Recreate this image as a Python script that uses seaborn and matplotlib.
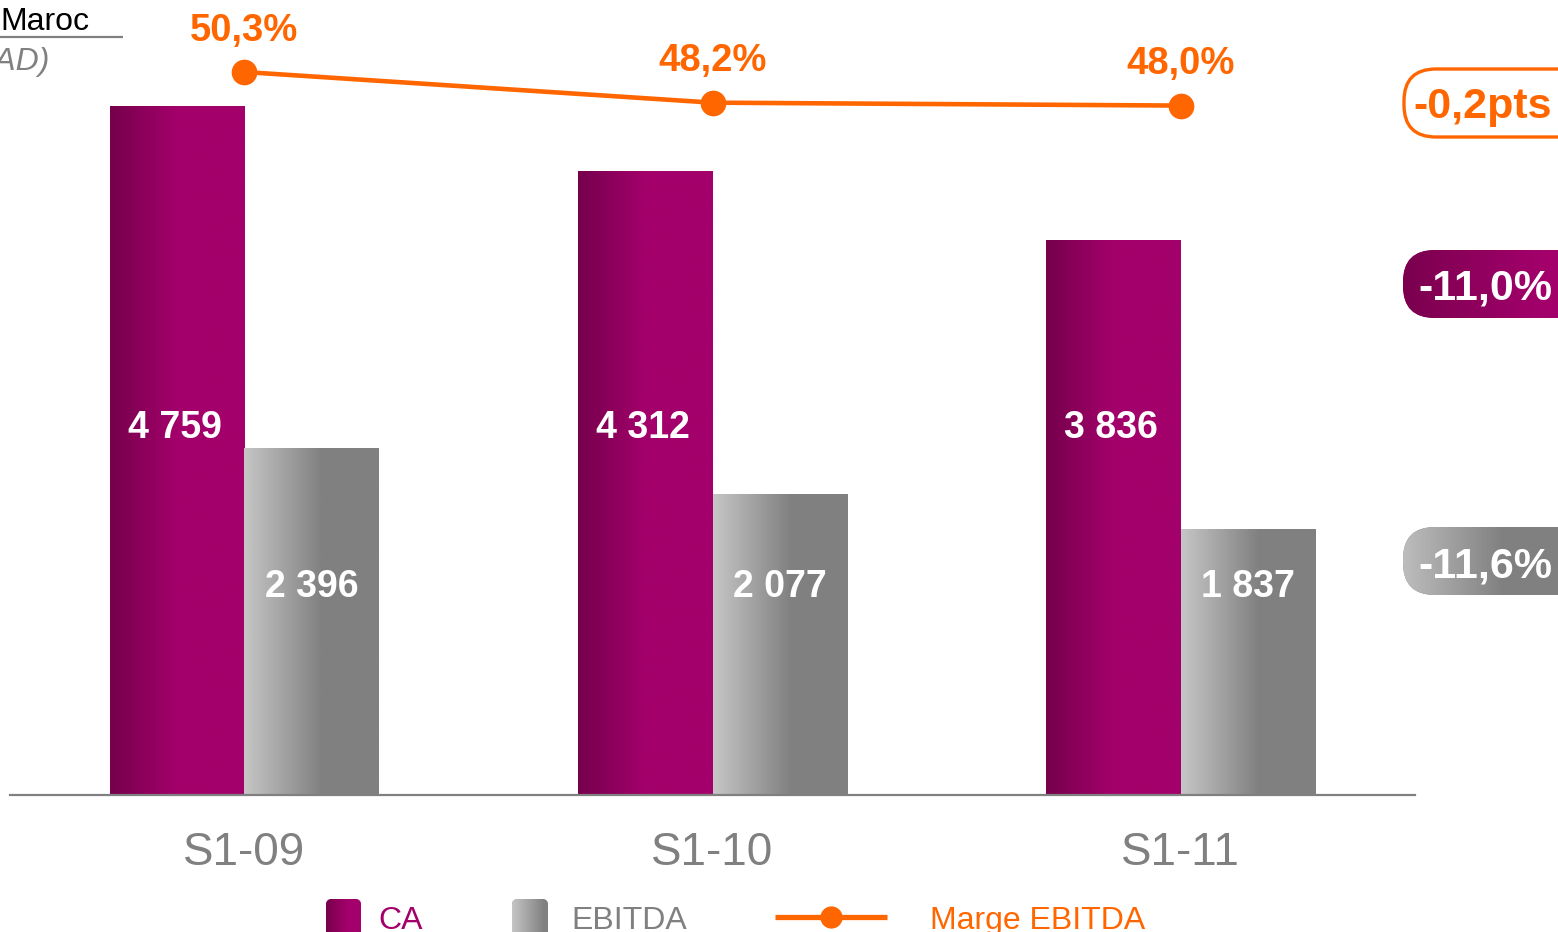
import numpy as np
import pandas as pd
import matplotlib
matplotlib.use("Agg")
import matplotlib.pyplot as plt
import matplotlib.transforms as mtrans
from matplotlib.colors import to_rgb
from matplotlib.patches import FancyBboxPatch
import seaborn as sns

# ---------------- data ----------------
periods = ["S1-09", "S1-10", "S1-11"]
ca = [4759, 4312, 3836]
ebitda = [2396, 2077, 1837]
marge = [50.3, 48.2, 48.0]
ca_labels = ["4 759", "4 312", "3 836"]
ebitda_labels = ["2 396", "2 077", "1 837"]
marge_labels = ["50,3%", "48,2%", "48,0%"]
badge_texts = ["-0,2pts", "-11,0%", "-11,6%"]
legend_labels = ["CA", "EBITDA", "Marge EBITDA"]
title_text = "Maroc"
unit_text = "(MAD)"

# ---------------- style ----------------
MAGENTA = "#a3006b"
DARK_MAG = "#76004c"
GRAY = "#808080"
LIGHT_GRAY = "#c6c6c6"
ORANGE = "#ff6600"

sns.set_theme(style="white")
plt.rcParams["font.family"] = ["Liberation Sans", "DejaVu Sans"]

W, H = 1558, 932
fig = plt.figure(figsize=(W / 100, H / 100), dpi=100)
ax = fig.add_axes([10 / W, (H - 795) / H, 1405 / W, 795 / H])


def grad_img(c0, c1, frac):
    t = np.linspace(0, 1, 256)
    s = np.clip(t / frac, 0, 1)
    a = np.array(to_rgb(c0))
    b = np.array(to_rgb(c1))
    return (a[None, :] * (1 - s[:, None]) + b[None, :] * s[:, None])[None, :, :]


df = pd.DataFrame({
    "period": periods * 2,
    "value": ca + ebitda,
    "serie": ["CA"] * len(periods) + ["EBITDA"] * len(periods),
})
sns.barplot(data=df, x="period", y="value", hue="serie", hue_order=["CA", "EBITDA"],
            palette=[MAGENTA, GRAY], width=0.575, gap=0, dodge=True, legend=False,
            errorbar=None, saturation=1, ax=ax)

grads = [grad_img(DARK_MAG, MAGENTA, 0.5), grad_img(LIGHT_GRAY, GRAY, 0.58)]
for cont, img in zip(ax.containers, grads):
    for bar in cont:
        x0, y0, w, h = bar.get_x(), bar.get_y(), bar.get_width(), bar.get_height()
        im = ax.imshow(img, extent=[x0, x0 + w, y0, y0 + h], aspect="auto",
                       interpolation="bilinear", zorder=bar.get_zorder() + 0.1)
        im.set_clip_path(bar)

ax.set_xlim(-0.5, 2.5)
ax.set_ylim(0, 795 / 0.1448)
ax.set_yticks([])
ax.set_xlabel("")
ax.set_ylabel("")
sns.despine(ax=ax, left=True)
ax.spines["bottom"].set_color(GRAY)
ax.spines["bottom"].set_linewidth(1.6)
ax.tick_params(axis="x", length=0, pad=26, labelsize=33, labelcolor=GRAY)

blend = mtrans.blended_transform_factory(ax.transData, ax.transAxes)
for bar, lab in zip(ax.containers[0], ca_labels):
    ax.text(bar.get_x() + bar.get_width() / 2 - 0.005, (795 - 438) / 795, lab, transform=blend,
            ha="center", va="baseline", color="white", fontsize=27, fontweight="bold", zorder=5)
for bar, lab in zip(ax.containers[1], ebitda_labels):
    ax.text(bar.get_x() + bar.get_width() / 2, (795 - 597) / 795, lab, transform=blend,
            ha="center", va="baseline", color="white", fontsize=27, fontweight="bold", zorder=5)

# ---------------- margin line ----------------
ax2 = ax.twinx()
pos = np.arange(len(periods))
sns.lineplot(x=pos, y=marge, ax=ax2, color=ORANGE, lw=3.3, marker="o",
             markersize=18.5, markeredgewidth=0, clip_on=False)
ax2.set_ylim(50.3 - (795 - 72) / 14.6, 50.3 + 72 / 14.6)
ax2.set_xlim(-0.5, 2.5)
ax2.axis("off")
for x, y, lab in zip(pos, marge, marge_labels):
    ax2.annotate(lab, (x, y), xytext=(0, 22.5), textcoords="offset points",
                 ha="center", va="baseline", color=ORANGE, fontsize=27.5,
                 fontweight="bold", annotation_clip=False)

# ---------------- overlay (title, badges, legend) ----------------
ov = fig.add_axes([0, 0, 1, 1])
ov.set_zorder(10)
ov.patch.set_alpha(0)


def add_grad_patch(patch, img):
    ov.add_patch(patch)
    x0, y0 = patch.get_x(), patch.get_y()
    w, h = patch.get_width(), patch.get_height()
    im = ov.imshow(img, extent=[x0, x0 + w, y0 + h, y0], aspect="auto",
                   interpolation="bilinear", zorder=patch.get_zorder() + 0.1)
    im.set_clip_path(patch)


ov.text(0, 30, title_text, ha="left", va="baseline", fontsize=23, color="black")
ov.plot([0, 123], [37, 37], color=GRAY, lw=1.6, solid_capstyle="butt")
ov.text(50, 70, unit_text, ha="right", va="baseline", fontsize=23, color=GRAY, style="italic")

# badges
b1 = FancyBboxPatch((1404, 69), 200, 68, boxstyle="round,pad=0,rounding_size=32",
                    facecolor="white", edgecolor=ORANGE, lw=2.4, zorder=2)
ov.add_patch(b1)
ov.text(1483, 118, badge_texts[0], ha="center", va="baseline", fontsize=31,
        fontweight="bold", color=ORANGE, zorder=4)

b2 = FancyBboxPatch((1403, 250), 200, 68, boxstyle="round,pad=0,rounding_size=32",
                    facecolor=MAGENTA, edgecolor="none", zorder=2)
add_grad_patch(b2, grad_img("#7a004e", MAGENTA, 0.7))
ov.text(1485, 299, badge_texts[1], ha="center", va="baseline", fontsize=31,
        fontweight="bold", color="white", zorder=4)

b3 = FancyBboxPatch((1403, 527), 200, 68, boxstyle="round,pad=0,rounding_size=32",
                    facecolor=GRAY, edgecolor="none", zorder=2)
add_grad_patch(b3, grad_img("#bdbdbd", GRAY, 0.5))
ov.text(1485, 578, badge_texts[2], ha="center", va="baseline", fontsize=31,
        fontweight="bold", color="white", zorder=4)

# legend
lg1 = FancyBboxPatch((326, 899), 35, 42, boxstyle="round,pad=0,rounding_size=6",
                     facecolor=MAGENTA, edgecolor="none", zorder=2)
add_grad_patch(lg1, grad_img(DARK_MAG, MAGENTA, 0.6))
lg2 = FancyBboxPatch((512, 899), 36, 42, boxstyle="round,pad=0,rounding_size=6",
                     facecolor=GRAY, edgecolor="none", zorder=2)
add_grad_patch(lg2, grad_img(LIGHT_GRAY, GRAY, 0.9))
ov.plot([775, 887], [917, 917], color=ORANGE, lw=3.8, solid_capstyle="butt")
ov.plot([831], [917], marker="o", color=ORANGE, markersize=16, markeredgewidth=0)

ov.text(378, 929, legend_labels[0], ha="left", va="baseline", fontsize=23,
        color=MAGENTA)
ov.text(571, 929, legend_labels[1], ha="left", va="baseline", fontsize=23,
        color=GRAY)
ov.text(930, 929, legend_labels[2], ha="left", va="baseline", fontsize=23,
        color=ORANGE)

ov.set_xlim(0, W)
ov.set_ylim(H, 0)
ov.axis("off")

fig.savefig("out.png", dpi=100)
